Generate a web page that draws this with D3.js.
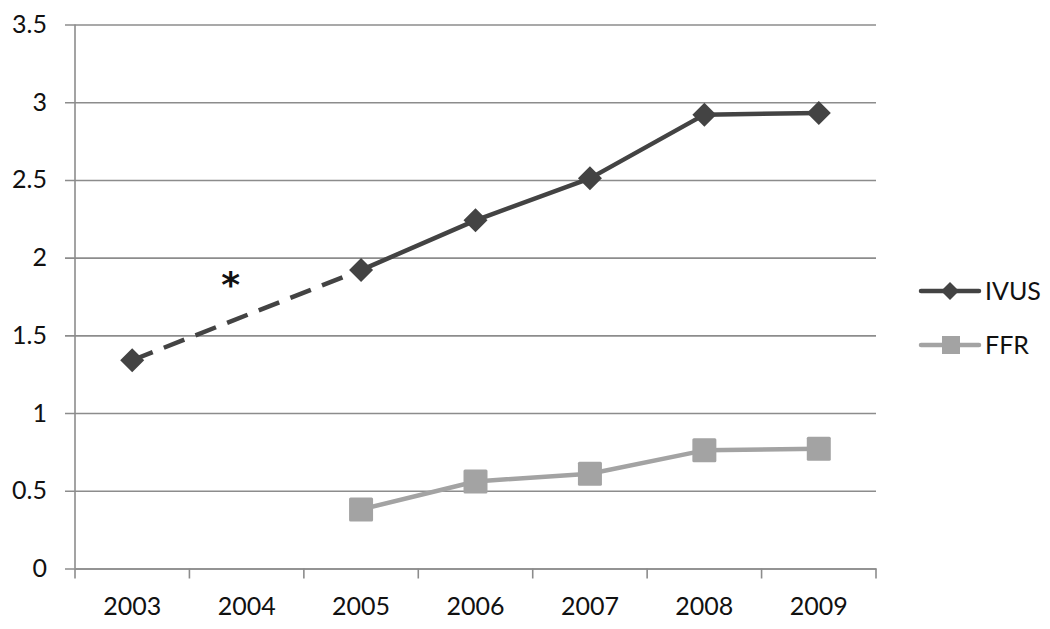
<!DOCTYPE html>
<html><head><meta charset="utf-8">
<script src="https://cdn.jsdelivr.net/npm/d3@7"></script>
<style>body{margin:0;background:#fff}svg{display:block}</style>
</head><body>
<svg id="c" width="1050" height="629"></svg>
<script>
const years = ["2003","2004","2005","2006","2007","2008","2009"];
const ivus = [1.34, null, 1.92, 2.24, 2.51, 2.92, 2.93];
const ffr = [null, null, 0.38, 0.56, 0.61, 0.76, 0.77];
const yTicks = [0, 0.5, 1, 1.5, 2, 2.5, 3, 3.5];
const yTickLabels = ["0","0.5","1","1.5","2","2.5","3","3.5"];
const seriesNames = ["IVUS", "FFR"];

const svg = d3.select("#c");
const font = "Lato, 'Open Sans', sans-serif";
const fs = 25;
const L = 75, R = 876, T = 24.5, B = 568.5;
const x = d3.scaleBand().domain(years).range([L, R]);
const y = d3.scaleLinear().domain([0, 3.5]).range([B, T]);
const cx = d => x(d) + x.bandwidth() / 2;

// gridlines + y ticks
const yAxis = d3.axisLeft(y).tickValues(yTicks).tickFormat((d, i) => yTickLabels[i])
  .tickSize(-(R - L)).tickSizeOuter(0).tickPadding(28);
const gy = svg.append("g").attr("transform", `translate(${L},0)`).call(yAxis);
gy.select(".domain").remove();
gy.selectAll(".tick line").attr("x1", -10).attr("stroke", "#8c8c8c").attr("stroke-width", 1.6);
gy.selectAll(".tick text").attr("font-family", font).attr("font-size", fs).attr("fill", "#111");

// x axis
const xAxis = d3.axisBottom(x).tickSize(0).tickPadding(29);
const gx = svg.append("g").attr("transform", `translate(0,${B})`).call(xAxis);
gx.select(".domain").attr("stroke", "#8c8c8c").attr("stroke-width", 1.6);
gx.selectAll(".tick text").attr("font-family", font).attr("font-size", fs).attr("fill", "#111");
// x tick marks at category boundaries
const bounds = years.map(d => x(d)).concat([R]);
svg.append("g").selectAll("line").data(bounds).join("line")
  .attr("x1", d => d).attr("x2", d => d).attr("y1", B).attr("y2", B + 10)
  .attr("stroke", "#8c8c8c").attr("stroke-width", 1.6);
// y axis line
svg.append("line").attr("x1", L).attr("x2", L).attr("y1", T).attr("y2", B)
  .attr("stroke", "#8c8c8c").attr("stroke-width", 1.6);

const ivusColor = "#434343", ffrColor = "#a3a3a3";
const line = d3.line().defined(d => d.v != null).x(d => cx(d.k)).y(d => y(d.v));
const ivusData = years.map((k, i) => ({k, v: ivus[i]}));
const ffrData = years.map((k, i) => ({k, v: ffr[i]}));

// dashed gap segment (2003 -> 2005)
const gapPts = ivusData.filter(d => d.v != null).slice(0, 2);
svg.append("path").attr("d", d3.line().x(d => cx(d.k)).y(d => y(d.v))(gapPts))
  .attr("fill", "none").attr("stroke", ivusColor).attr("stroke-width", 4.5)
  .attr("stroke-dasharray", "22,12");

svg.append("path").attr("d", line(ivusData)).attr("fill", "none")
  .attr("stroke", ivusColor).attr("stroke-width", 4.5).attr("stroke-linejoin", "round");
svg.append("path").attr("d", line(ffrData)).attr("fill", "none")
  .attr("stroke", ffrColor).attr("stroke-width", 4.5).attr("stroke-linejoin", "round");

const diamond = s => `M0,${-s}L${s},0L0,${s}L${-s},0Z`;
svg.append("g").selectAll("path").data(ivusData.filter(d => d.v != null)).join("path")
  .attr("d", diamond(12)).attr("transform", d => `translate(${cx(d.k)},${y(d.v)})`)
  .attr("fill", ivusColor);
svg.append("g").selectAll("rect").data(ffrData.filter(d => d.v != null)).join("rect")
  .attr("x", d => cx(d.k) - 12).attr("y", d => y(d.v) - 12).attr("width", 24).attr("height", 24)
  .attr("rx", 1.5).attr("fill", ffrColor);

// asterisk annotation
svg.append("text").attr("x", cx("2004") - 16).attr("y", 297).attr("text-anchor", "middle")
  .attr("font-family", "'DejaVu Sans', sans-serif").attr("font-size", 36).attr("font-weight", "bold")
  .attr("fill", "#111").text("*");

// legend
const leg = svg.append("g");
const legY = [291, 345];
[ivusColor, ffrColor].forEach((c, i) => {
  leg.append("line").attr("x1", 921).attr("x2", 979).attr("y1", legY[i]).attr("y2", legY[i])
    .attr("stroke", c).attr("stroke-width", 4.5).attr("stroke-linecap", "round");
  if (i === 0) leg.append("path").attr("d", diamond(9)).attr("transform", `translate(950,${legY[i]})`).attr("fill", c);
  else leg.append("rect").attr("x", 942).attr("y", legY[i] - 9).attr("width", 18).attr("height", 18).attr("fill", c);
  leg.append("text").attr("x", 985).attr("y", legY[i]).attr("dy", "0.36em")
    .attr("font-family", font).attr("font-size", fs).attr("fill", "#111").text(seriesNames[i]);
});
</script>
</body></html>
